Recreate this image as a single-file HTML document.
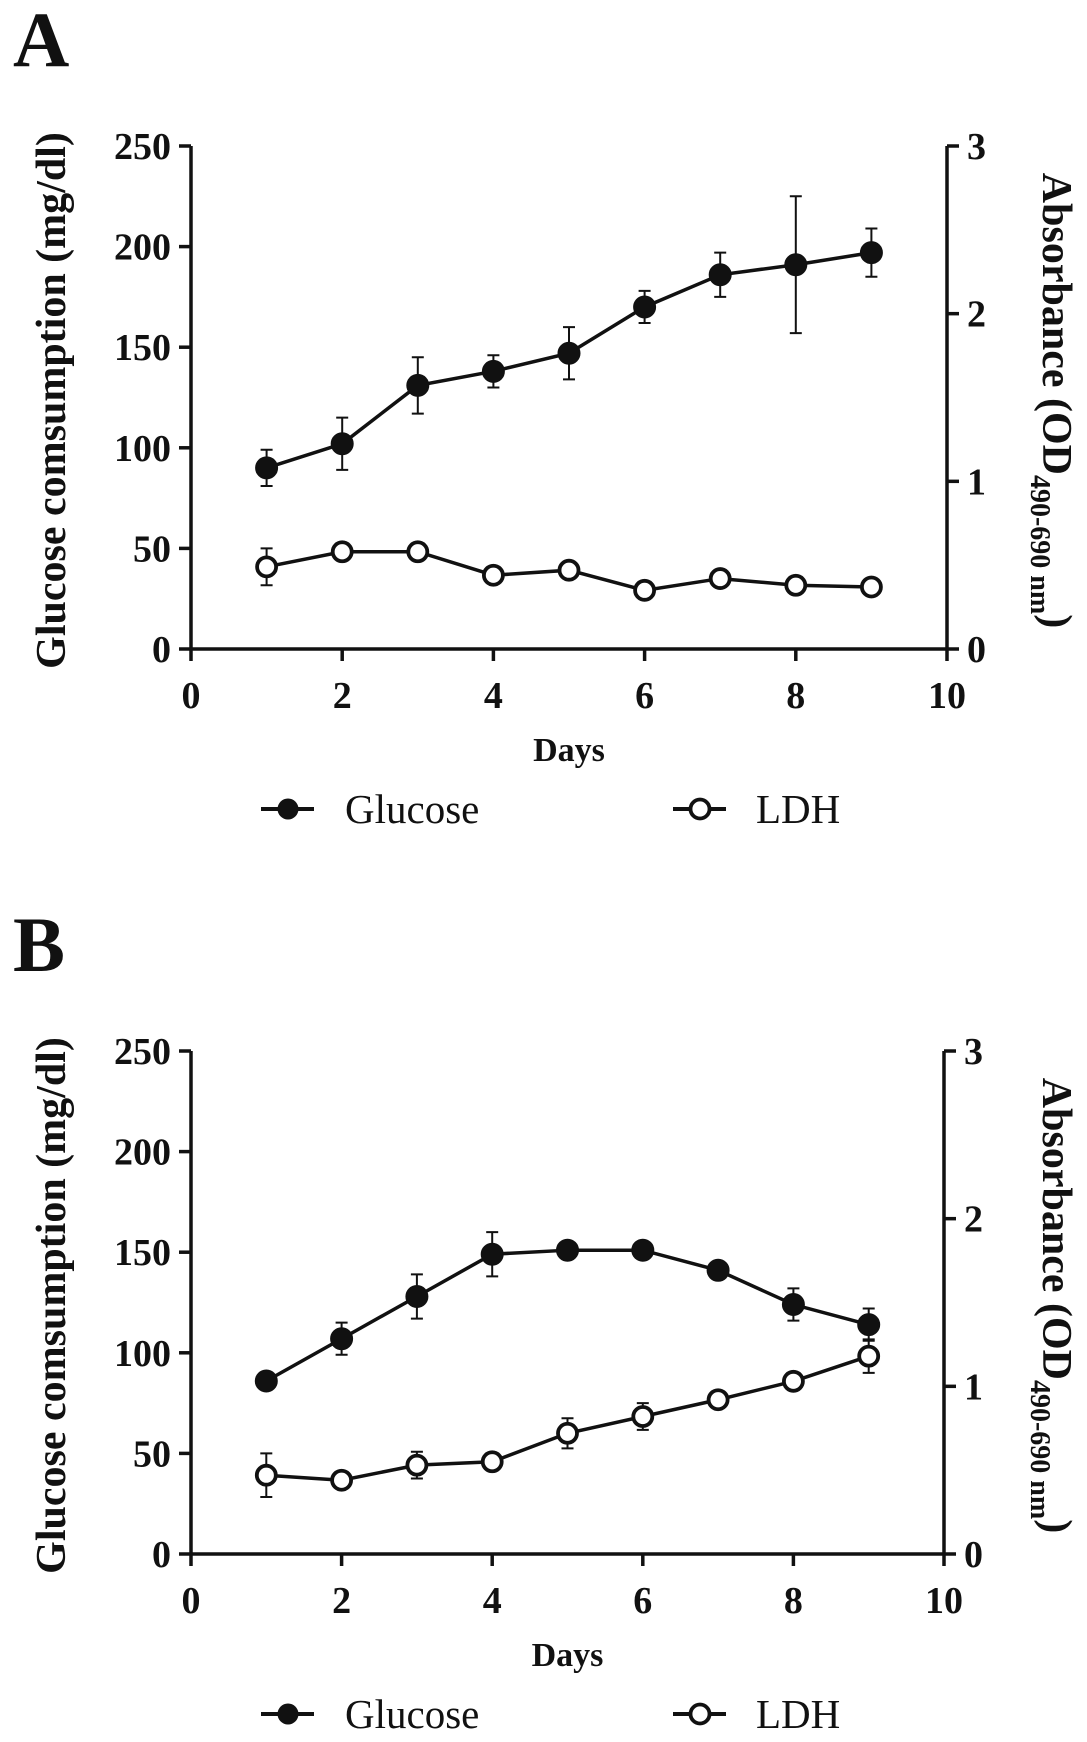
<!DOCTYPE html>
<html><head><meta charset="utf-8"><style>
body{margin:0;background:#fff;}
svg{display:block;}
text{font-family:"Liberation Serif",serif;fill:#111;}
.b{font-weight:bold;}
</style></head><body>
<svg id="chart" width="1087" height="1742" viewBox="0 0 1087 1742" xmlns="http://www.w3.org/2000/svg"></svg>
<script>
const days = [1,2,3,4,5,6,7,8,9];
const xTicks = [0,2,4,6,8,10];
const leftTicks = [0,50,100,150,200,250];
const rightTicks = [0,1,2,3];
const glucoseA = [90,102,131,138,147,170,186,191,197];
const glucoseErrA = [9,13,14,8,13,8,11,34,12];
const ldhA = [0.49,0.58,0.58,0.44,0.47,0.35,0.42,0.38,0.37];
const ldhErrA = [0.11,0,0,0,0,0,0,0,0];
const glucoseB = [86,107,128,149,151,151,141,124,114];
const glucoseErrB = [0,8,11,11,3,2,2,8,8];
const ldhB = [0.47,0.44,0.53,0.55,0.72,0.82,0.92,1.03,1.18];
const ldhErrB = [0.13,0.02,0.08,0.02,0.09,0.08,0.03,0.04,0.1];

const svg = document.getElementById('chart');
const NS = 'http://www.w3.org/2000/svg';
function mk(tag, attrs, parent){
  const e = document.createElementNS(NS, tag);
  for (const k in attrs) e.setAttribute(k, attrs[k]);
  (parent||svg).appendChild(e);
  return e;
}
function txt(s, attrs, parent){ const e = mk('text', attrs, parent); e.textContent = s; return e; }

function panel(id, letter, top, bottom, right, gl, glErr, ld, ldErr){
  const left = 191;
  const g = mk('g', {});
  
  
  const xs = d => left + (d/10)*(right-left);
  const yL = v => bottom - (v/250)*(bottom-top);
  const yR = v => bottom - (v/3)*(bottom-top);

  const lt = txt(letter, {x:13, y:top-80, 'font-size':78, class:'b'}, g);
  
  

  const axes = mk('path', {d:`M${left},${top} V${bottom} H${right} M${right},${top} V${bottom}`, stroke:'#111', 'stroke-width':3.5, fill:'none'}, g);
  
  
  leftTicks.forEach(v => {
    const y = yL(v);
    mk('line', {x1:left-12, x2:left, y1:y, y2:y, stroke:'#111', 'stroke-width':3.5}, g);
    const t = txt(String(v), {x:left-20, y:y+13, 'font-size':38, class:'b', 'text-anchor':'end'}, g);
    
    
  });
  rightTicks.forEach(v => {
    const y = yR(v);
    mk('line', {x1:right, x2:right+12, y1:y, y2:y, stroke:'#111', 'stroke-width':3.5}, g);
    const t = txt(String(v), {x:right+20, y:y+13, 'font-size':38, class:'b'}, g);
    
    
  });
  xTicks.forEach(v => {
    const x = xs(v);
    mk('line', {x1:x, x2:x, y1:bottom, y2:bottom+12, stroke:'#111', 'stroke-width':3.5}, g);
    const t = txt(String(v), {x:x, y:bottom+59, 'font-size':38, class:'b', 'text-anchor':'middle'}, g);
    
    
  });
  const xt = txt('Days', {x:(left+right)/2, y:bottom+112, 'font-size':34, class:'b', 'text-anchor':'middle'}, g);
  
  
  const cy = (top+bottom)/2 + 3;
  const yt = txt('Glucose comsumption (mg/dl)', {x:0, y:0, 'font-size':42, class:'b', 'text-anchor':'middle', transform:`translate(65,${cy}) rotate(-90)`}, g);
  
  
  const rt = mk('text', {x:0, y:0, 'font-size':42, class:'b', 'text-anchor':'middle', transform:`translate(1043,${cy}) rotate(90)`}, g);
  
  
  rt.innerHTML = 'Absorbance (OD<tspan font-size="28" dy="12">490-690 nm</tspan><tspan dy="-12">)</tspan>';

  function series(name, vals, errs, yf, filled){
    const sg = mk('g', {}, g);
    
    
    vals.forEach((v,i) => {
      if (errs[i] > 0) {
        const x = xs(days[i]), y1 = yf(v-errs[i]), y2 = yf(v+errs[i]);
        mk('path', {d:`M${x},${y1} V${y2} M${x-6},${y1} H${x+6} M${x-6},${y2} H${x+6}`, stroke:'#111', 'stroke-width':2, fill:'none'}, sg);
      }
    });
    const pts = vals.map((v,i) => xs(days[i]) + ',' + yf(v)).join(' ');
    const pl = mk('polyline', {points:pts, fill:'none', stroke:'#111', 'stroke-width':3.5}, sg);
    
    
    vals.forEach((v,i) => {
      const c = mk('circle', {cx:xs(days[i]), cy:yf(v), r: filled?11:9.5, fill: filled?'#111':'#fff', stroke:'#111', 'stroke-width': filled?1:3.8}, sg);
      
      
    });
  }
  series('ldh', ld, ldErr, yR, false);
  series('glucose', gl, glErr, yL, true);

  const ly = bottom + 160;
  const lg = mk('g', {}, g);
  
  
  mk('line', {x1:261, x2:314, y1:ly, y2:ly, stroke:'#111', 'stroke-width':4}, lg);
  mk('circle', {cx:288, cy:ly, r:10.5, fill:'#111'}, lg);
  const l1 = txt('Glucose', {x:345, y:ly+14, 'font-size':41}, lg);
  
  
  mk('line', {x1:673, x2:726, y1:ly, y2:ly, stroke:'#111', 'stroke-width':4}, lg);
  mk('circle', {cx:700, cy:ly, r:9.5, fill:'#fff', stroke:'#111', 'stroke-width':3.8}, lg);
  const l2 = txt('LDH', {x:756, y:ly+14, 'font-size':41}, lg);
  
  
}
panel('a', 'A', 146, 649, 947, glucoseA, glucoseErrA, ldhA, ldhErrA);
panel('b', 'B', 1051, 1554, 944, glucoseB, glucoseErrB, ldhB, ldhErrB);
</script>
</body></html>
